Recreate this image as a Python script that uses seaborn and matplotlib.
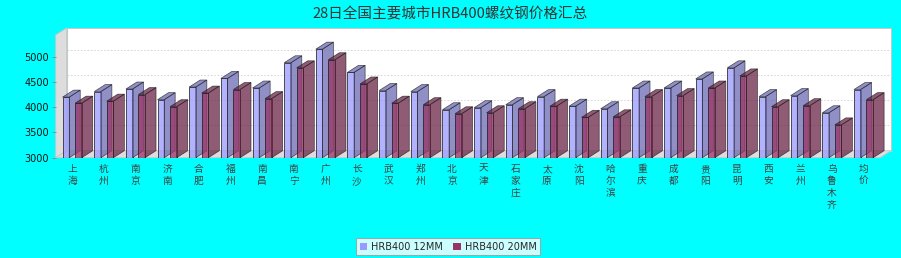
import numpy as np
import pandas as pd
import matplotlib
matplotlib.use("Agg")
import matplotlib.pyplot as plt
from matplotlib.patches import Polygon, Patch
import seaborn as sns

# ---------------- data ----------------
cities = ["上海", "杭州", "南京", "济南", "合肥", "福州", "南昌", "南宁", "广州", "长沙",
          "武汉", "郑州", "北京", "天津", "石家庄", "太原", "沈阳", "哈尔滨", "重庆", "成都",
          "贵阳", "昆明", "西安", "兰州", "乌鲁木齐", "均价"]
price_12mm = [4200, 4310, 4360, 4150, 4400, 4570, 4380, 4880, 5150, 4690,
              4330, 4310, 3950, 3990, 4050, 4210, 4020, 3970, 4380, 4380,
              4560, 4780, 4210, 4230, 3890, 4350]
price_20mm = [4080, 4120, 4250, 4010, 4280, 4350, 4170, 4780, 4940, 4460,
              4080, 4050, 3870, 3890, 3970, 4020, 3800, 3810, 4210, 4230,
              4380, 4620, 4010, 4030, 3650, 4150]
series = ["HRB400 12MM", "HRB400 20MM"]
y_ticks = [3000, 3500, 4000, 4500, 5000]
title = "28日全国主要城市HRB400螺纹钢价格汇总"

# ---------------- style ----------------
BG = "#00ffff"
colors = {"HRB400 12MM": "#9999ff", "HRB400 20MM": "#993366"}
dark = {"HRB400 12MM": "#6b6bb3", "HRB400 20MM": "#6b2447"}
ALPHA = 0.75
DX, DY = 11, 7  # 3D depth offset in pixels

sns.set_theme(style="white")
plt.rcParams["font.family"] = ["Noto Sans CJK SC", "DejaVu Sans"]

df = pd.DataFrame({
    "city": cities * 2,
    "price": price_12mm + price_20mm,
    "spec": [series[0]] * len(cities) + [series[1]] * len(cities),
})

W, H = 901, 258
fig = plt.figure(figsize=(W / 100, H / 100), dpi=100, facecolor=BG)
left, right, bottom_px, top_px = 55.7, 880.0, 157.7, 35.0
ax = fig.add_axes([left / W, (H - bottom_px) / H, (right - left) / W, (bottom_px - top_px) / H])
ax.patch.set_visible(False)

sns.barplot(data=df, x="city", y="price", hue="spec", order=cities, hue_order=series,
            palette=colors, width=0.79, gap=0.47, dodge=True, legend=False,
            saturation=1, ax=ax, errorbar=None)
bars = list(ax.patches)

ymin, ymax = 3000, 5430
x0, x1 = -0.52, len(cities) - 1 + 0.52
ax.set_xlim(x0, x1)
ax.set_ylim(ymin, ymax)

# pixel offset -> data offset
p0 = ax.transData.transform((0, ymin))
q = ax.transData.inverted().transform(p0 + np.array([DX, DY]))
dxd, dyd = q[0] - 0, q[1] - ymin

# back wall
ax.add_patch(Polygon([(x0 + dxd, ymin + dyd), (x1 + dxd, ymin + dyd), (x1 + dxd, ymax + dyd), (x0 + dxd, ymax + dyd)],
                     closed=True, facecolor="white", edgecolor="#c8c8c8", lw=0.8, zorder=0.1, clip_on=False))
# gridlines on back wall
for t in y_ticks[1:]:
    ax.plot([x0 + dxd, x1 + dxd], [t + dyd, t + dyd], color="#d0d0d0", lw=0.6, ls=(0, (2, 2)),
            zorder=0.2, clip_on=False)
# left wall
ax.add_patch(Polygon([(x0, ymin), (x0, ymax), (x0 + dxd, ymax + dyd), (x0 + dxd, ymin + dyd)],
                     closed=True, facecolor="#dddddd", edgecolor="#c8c8c8", lw=0.6, zorder=0.3, clip_on=False))
# floor
ax.add_patch(Polygon([(x0, ymin), (x1, ymin), (x1 + dxd, ymin + dyd), (x0 + dxd, ymin + dyd)],
                     closed=True, facecolor="#dddddd", edgecolor="#c8c8c8", lw=0.6, zorder=0.3, clip_on=False))

# 3D faces on bars
blue_set = set(id(b) for b in bars[:len(cities)])
for b in bars:
    xl = b.get_x()
    w = b.get_width()
    xr = xl + w
    h = b.get_y() + b.get_height()
    name = series[0] if id(b) in blue_set else series[1]
    z = 1 + (xl - x0) * 3
    b.set_alpha(ALPHA)
    b.set_edgecolor("#1a1a1a")
    b.set_linewidth(0.7)
    b.set_zorder(z)
    side = Polygon([(xr, ymin), (xr, h), (xr + dxd, h + dyd), (xr + dxd, ymin + dyd)], closed=True,
                   facecolor=dark[name], alpha=ALPHA, edgecolor="#1a1a1a", lw=0.5, zorder=z + 0.1, clip_on=False)
    topf = Polygon([(xl, h), (xr, h), (xr + dxd, h + dyd), (xl + dxd, h + dyd)], closed=True,
                   facecolor=dark[name], alpha=ALPHA, edgecolor="#1a1a1a", lw=0.5, zorder=z + 0.2, clip_on=False)
    ax.add_patch(side)
    ax.add_patch(topf)

for s in ax.spines.values():
    s.set_visible(False)
ax.set_xlabel("")
ax.set_ylabel("")
ax.set_yticks(y_ticks)
ax.set_yticklabels([str(t) for t in y_ticks], fontsize=7, color="#111111", family=["DejaVu Sans"])
ax.tick_params(axis="y", length=3, width=0.6, color="#888888", pad=2, left=True)
ax.set_xticks(range(len(cities)))
ax.set_xticklabels(["\n".join(c) for c in cities], fontsize=7, color="#404040", linespacing=1.25,
                   va="top")
ax.tick_params(axis="x", length=0, pad=4.5)
ax.grid(False)

fig.text(0.5, 1 - 14 / H, title, ha="center", va="center", fontsize=10.5, color="#333333")

handles = [Patch(facecolor=colors[s], edgecolor="none") for s in series]
leg = fig.legend(handles, series, loc="center", bbox_to_anchor=(448 / W, 1 - 246.7 / H), ncol=2,
                 fontsize=7, frameon=True, fancybox=False, handlelength=0.8, handleheight=0.8,
                 handletextpad=0.4, columnspacing=1.0, borderpad=0.35, prop={"family": ["DejaVu Sans"], "size": 7})
leg.get_frame().set_edgecolor("#999999")
leg.get_frame().set_linewidth(0.8)
leg.get_frame().set_facecolor("white")

fig.savefig("out.png", dpi=100, facecolor=BG)
